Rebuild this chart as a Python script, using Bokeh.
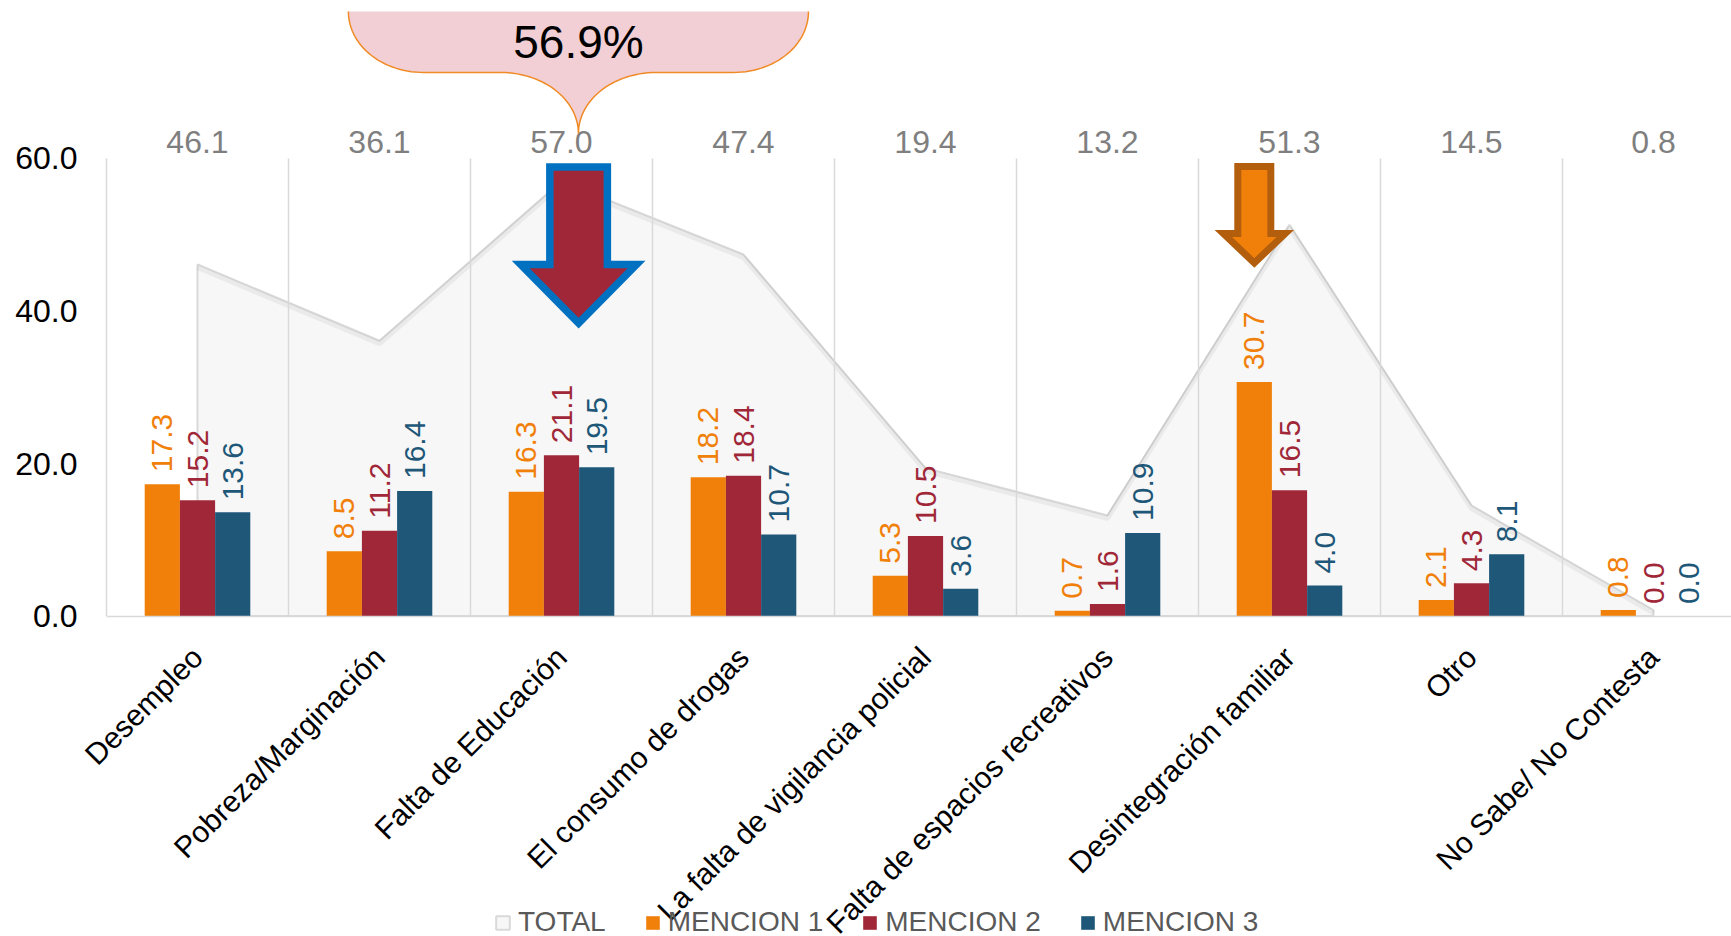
import math
import numpy as np
from bokeh.plotting import figure
from bokeh.models import (FixedTicker, NumeralTickFormatter, Legend, LegendItem,
                          ColumnDataSource, Range1d)
from bokeh.transform import dodge
from bokeh.core.properties import value
from bokeh.embed import file_html
from bokeh.resources import INLINE

# ---------------- data ----------------
categories = ["Desempleo", "Pobreza/Marginación", "Falta de Educación",
              "El consumo de drogas", "La falta de vigilancia policial",
              "Falta de espacios recreativos", "Desintegración familiar",
              "Otro", "No Sabe/ No Contesta"]
total = [46.1, 36.1, 57.0, 47.4, 19.4, 13.2, 51.3, 14.5, 0.8]
mencion1 = [17.3, 8.5, 16.3, 18.2, 5.3, 0.7, 30.7, 2.1, 0.8]
mencion2 = [15.2, 11.2, 21.1, 18.4, 10.5, 1.6, 16.5, 4.3, 0.0]
mencion3 = [13.6, 16.4, 19.5, 10.7, 3.6, 10.9, 4.0, 8.1, 0.0]
series_names = ["TOTAL", "MENCION 1", "MENCION 2", "MENCION 3"]
y_ticks = [0, 20, 40, 60]
callout_text = "56.9%"

# ---------------- style ----------------
FONT = "Liberation Sans"
ORANGE = "#F0800A"
RED = "#A02738"
BLUE = "#1E5778"
GRID = "#D9D9D9"

W, H = 1731, 936
LEFT = 106                 # pixel column of x = 0
CAT_PX = 182.0
PX_PER_UNIT = 7.628
ZERO_PX = 615.6            # pixel row of y = 0 (from top)
x_start = -LEFT / CAT_PX
x_end = (W - LEFT) / CAT_PX
y_end = ZERO_PX / PX_PER_UNIT
y_start = -(H - ZERO_PX) / PX_PER_UNIT

x = np.arange(len(categories)) + 0.5
bw = 35.2 / CAT_PX

src = ColumnDataSource(dict(
    x=x, total=total, m1=mencion1, m2=mencion2, m3=mencion3,
    t_lab=[f"{v:.1f}" for v in total],
    l1=[f"{v:.1f}" for v in mencion1],
    l2=[f"{v:.1f}" for v in mencion2],
    l3=[f"{v:.1f}" for v in mencion3],
))

p = figure(width=W, height=H, x_range=Range1d(x_start, x_end), y_range=Range1d(y_start, y_end),
           output_backend="svg", toolbar_location=None,
           min_border_left=0, min_border_right=0, min_border_top=0,
           min_border_bottom=0)
p.outline_line_color = None
p.xgrid.visible = False
p.ygrid.visible = False
p.background_fill_color = "white"
p.border_fill_color = "white"

# TOTAL area
ax = [x[0]] + list(x) + [x[-1]]
ay = [0] + total + [0]
area = p.patch(ax, ay, fill_color="#F7F7F7", line_color=GRID, line_width=2)
p.line(x, np.array(total) - 0.4, line_color="black", line_alpha=0.05, line_width=5)

# category separators
bounds = np.arange(len(categories))
p.segment(x0=bounds, y0=0, x1=bounds, y1=y_ticks[-1], line_color=GRID, line_width=1.5)

# bars + labels
bars = []
for i, (key, lab, col) in enumerate([("m1", "l1", ORANGE), ("m2", "l2", RED), ("m3", "l3", BLUE)]):
    off = (i - 1) * bw
    r = p.vbar(x=dodge("x", off, range=p.x_range), top=key, width=bw, source=src,
               fill_color=col, line_color=None)
    bars.append(r)
    p.text(x=dodge("x", off, range=p.x_range), y=key, text=lab, source=src,
           angle=math.pi / 2, text_align="left", text_baseline="middle",
           y_offset=-12, text_color=col, text_font=value(FONT), text_font_size="30px")

# total labels above plot
p.text(x="x", y=y_ticks[-1], text="t_lab", source=src, text_align="center",
       text_baseline="middle", y_offset=-16, text_color="#7F7F7F",
       text_font=value(FONT), text_font_size="32px")

# arrows
def arrow(cx, half_shaft, half_head, top, wing, tip):
    xs = [cx - half_shaft, cx + half_shaft, cx + half_shaft, cx + half_head, cx,
          cx - half_head, cx - half_shaft]
    ys = [top, top, wing, wing, tip, wing, wing]
    return xs, ys

bx, by = arrow(x[2] + 0.094, 0.158, 0.318, 58.88, 46.09, 38.4)
p.patch(bx, by, fill_color=RED, line_color="#0070C0", line_width=7.5, line_join="miter")
ox, oy = arrow(x[6] - bw, 0.0907, 0.17, 58.94, 50.16, 46.3)
p.patch(ox, oy, fill_color=ORANGE, line_color="#B35E0C", line_width=7, line_join="miter")

# callout bubble
tipx = x[2] + 0.093
tipy = 63.26
top_y = 79.26
bot_y = 71.27
half_w = 1.264
crx, cry = 0.412, top_y - bot_y
prx, pry = 0.4286, bot_y - tipy
L, R = tipx - half_w, tipx + half_w
t = np.linspace(0, 1, 30)
xs, ys = [], []
th = math.pi + t * math.pi / 2
xs += list(L + crx + crx * np.cos(th)); ys += list(top_y + cry * np.sin(th))
th = math.pi / 2 - t * math.pi / 2
xs += list(tipx - prx + prx * np.cos(th)); ys += list(tipy + pry * np.sin(th))
th = math.pi - t * math.pi / 2
xs += list(tipx + prx + prx * np.cos(th)); ys += list(tipy + pry * np.sin(th))
th = 1.5 * math.pi + t * math.pi / 2
xs += list(R - crx + crx * np.cos(th)); ys += list(top_y + cry * np.sin(th))
p.patch(xs, ys, fill_color="#F2CFD5", line_color=None)
p.line(xs, ys, line_color="#F08A24", line_width=1.5)
p.text(x=[tipx], y=[75.2], text=[callout_text], text_align="center", text_baseline="middle",
       text_color="black", text_font=value(FONT), text_font_size="46px")

# axes
p.yaxis.fixed_location = 0
p.yaxis.ticker = FixedTicker(ticks=y_ticks)
p.yaxis.formatter = NumeralTickFormatter(format="0.0")
p.yaxis.axis_line_color = None
p.yaxis.major_tick_line_color = None
p.yaxis.minor_tick_line_color = None
p.yaxis.major_label_text_font = FONT
p.yaxis.major_label_text_font_size = "32px"
p.yaxis.major_label_text_color = "black"
p.yaxis.major_label_standoff = 23

p.xaxis.fixed_location = 0
p.xaxis.bounds = (0, x_end)
p.xaxis.ticker = FixedTicker(ticks=list(x))
p.xaxis.major_label_overrides = {float(xi): c for xi, c in zip(x, categories)}
p.xaxis.major_label_orientation = math.pi / 4
p.xaxis.axis_line_color = GRID
p.xaxis.axis_line_width = 1.5
p.xaxis.major_tick_line_color = None
p.xaxis.minor_tick_line_color = None
p.xaxis.major_label_text_font = FONT
p.xaxis.major_label_text_font_size = "30px"
p.xaxis.major_label_text_color = "black"
p.xaxis.major_label_standoff = 30

legend = Legend(items=[LegendItem(label=series_names[0], renderers=[area])] +
                [LegendItem(label=n, renderers=[r]) for n, r in zip(series_names[1:], bars)],
                orientation="horizontal", location=(494, -2),
                glyph_width=17, glyph_height=17, label_standoff=7, spacing=38,
                padding=0, margin=0, border_line_color=None, background_fill_alpha=0,
                label_text_font=FONT, label_text_font_size="28px",
                label_text_color="#595959")
p.add_layout(legend)

open("out.html", "w").write(file_html(p, INLINE))
